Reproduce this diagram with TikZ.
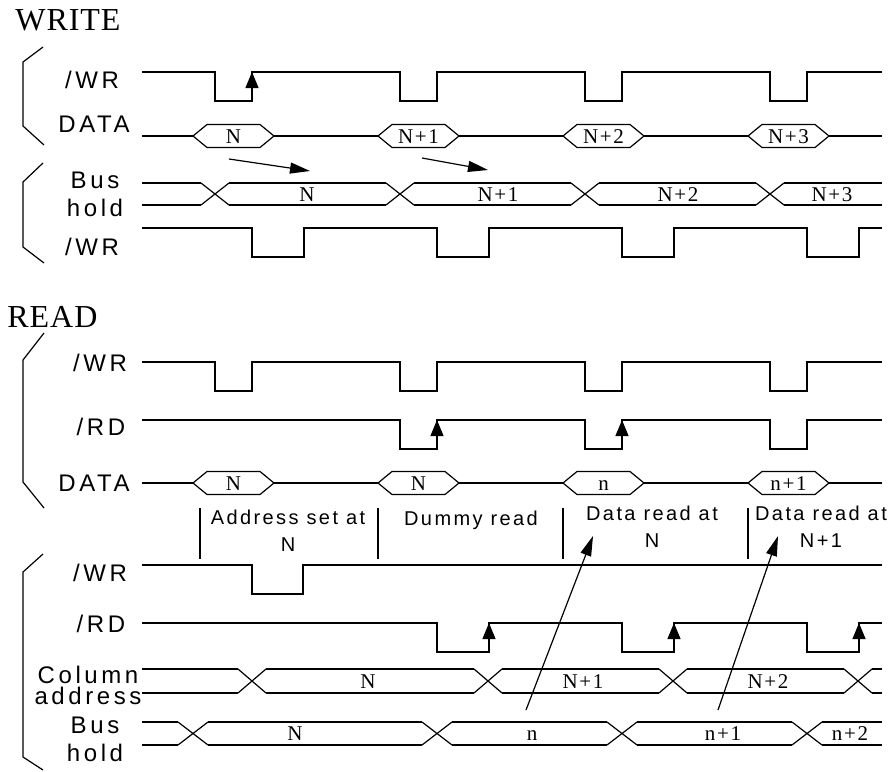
\documentclass[tikz,border=0pt]{standalone}
\usepackage{fontspec}
\setmainfont{Liberation Serif}
\newfontfamily\lblfont[LetterSpace=15]{Liberation Sans}
\newfontfamily\descfont[LetterSpace=12]{Liberation Sans}
\newfontfamily\titlefont[LetterSpace=3]{Liberation Serif}
\newfontfamily\valfont[LetterSpace=8]{Liberation Serif}
\usetikzlibrary{arrows.meta}
\tikzset{
    sig/.style={line width=0.6pt},
    edgetip/.style={sig, -{Triangle[length=8pt, width=6.5pt]}},
    longtip/.style={sig, -{Triangle[length=10pt, width=5.5pt]}},
    hexbox/.style={sig, fill=white},
    siglabel/.style={font=\lblfont\fontsize{12}{14}\selectfont, align=center, inner sep=0pt},
    vallabel/.style={font=\valfont\fontsize{10.5}{11}\selectfont, inner sep=0pt, text height=7pt, text depth=0pt},
    desclabel/.style={font=\descfont\fontsize{10}{13.5}\selectfont, align=center, inner sep=0pt},
    sectitle/.style={font=\titlefont\fontsize{16}{18}\selectfont, inner sep=0pt, anchor=base west}
}

\begin{document}
\begin{tikzpicture}[x=0.5pt, y=-0.5pt]
\useasboundingbox (0,0) rectangle (894,771);

% WRITE
\node[sectitle] (wtitle) at (15,31) {WRITE};
\draw[sig] (43,47) -- (23,62) -- (23,126) -- (44,145);
\draw[sig] (43,163) -- (23,182) -- (23,247) -- (44,263);

\node[siglabel] (wWR) at (92,80) {/WR};
\draw[sig] (142,72) foreach \x in {215,400,585,770} { -- (\x,72) -- (\x,101) -- (\x+37,101) -- (\x+37,72) } -- (882,72);
\draw[edgetip] (252,101) -- (252,72);

\node[siglabel] (wDATA) at (94,124) {DATA};
\draw[sig] (142,136) -- (882,136);
\foreach \x/\t [count=\i] in {193/N, 378/N+1, 563/N+2, 748/N+3} {
    \draw[hexbox] (\x,136) -- (\x+14,124.5) -- (\x+67,124.5) -- (\x+81,136) -- (\x+67,147.5) -- (\x+14,147.5) -- cycle;
    \node[vallabel] (wd\i) at (\x+40.5,136) {\t};
}

% latch arrows
\coordinate (la1) at (229,159); \coordinate (lb1) at (310,171);
\coordinate (la2) at (422,158); \coordinate (lb2) at (488,170);
\draw[longtip] (la1) -- (lb1);
\draw[longtip] (la2) -- (lb2);

\node[siglabel] (wBus) at (95,194) {Bus\\hold};
\foreach \c in {215,400,585,770}
    \draw[sig] (\c-14,183) -- (\c+14,205) (\c-14,205) -- (\c+14,183);
\foreach \a/\b in {142/201, 229/386, 414/571, 599/756, 784/882}
    \draw[sig] (\a,183) -- (\b,183) (\a,205) -- (\b,205);
\foreach \x/\t [count=\i] in {307/N, 498/N+1, 678/N+2, 832/N+3}
    \node[vallabel] (wb\i) at (\x,194) {\t};

\node[siglabel] (wWRb) at (92,247) {/WR};
\draw[sig] (142,228) foreach \x in {252,437,622,807} { -- (\x,228) -- (\x,257) -- (\x+52,257) -- (\x+52,228) } -- (882,228);

% READ
\node[sectitle] (rtitle) at (7,327) {READ};
\draw[sig] (44,333) -- (23,360) -- (23,482) -- (44,508);
\draw[sig] (43,554) -- (23,572) -- (23,757) -- (43,770);

\node[siglabel] (rWR) at (100,363) {/WR};
\draw[sig] (142,362) foreach \x in {215,400,585,770} { -- (\x,362) -- (\x,391) -- (\x+37,391) -- (\x+37,362) } -- (882,362);

\node[siglabel] (rRD) at (101,427) {/RD};
\draw[sig] (142,420) foreach \x in {400,585,770} { -- (\x,420) -- (\x,449) -- (\x+37,449) -- (\x+37,420) } -- (882,420);
\foreach \x in {437,622}
    \draw[edgetip] (\x,449) -- (\x,420);

\node[siglabel] (rDATA) at (94,483) {DATA};
\draw[sig] (142,483) -- (882,483);
\foreach \x/\t [count=\i] in {193/N, 378/N, 563/n, 748/n+1} {
    \draw[hexbox] (\x,483) -- (\x+14,471.5) -- (\x+67,471.5) -- (\x+81,483) -- (\x+67,494.5) -- (\x+14,494.5) -- cycle;
    \node[vallabel] (rd\i) at (\x+40.5,483) {\t};
}

% phases
\foreach \x in {200,378,563,748}
    \draw[sig] (\x,508) -- (\x,559);
\node[desclabel] (pAddr) at (288,531) {Address set at\\N};
\node[desclabel] (pDummy) at (471,520) {Dummy read};
\node[desclabel] (pRead1) at (652,527) {Data read at\\N};
\node[desclabel] (pRead2) at (821,527) {Data read at\\N+1};

\node[siglabel] (bWR) at (100,573) {/WR};
\draw[sig] (142,565) -- (252,565) -- (252,594) -- (303,594) -- (303,565) -- (882,565);

\node[siglabel] (bRD) at (101,624) {/RD};
\draw[sig] (142,623) foreach \x in {437,622,807} { -- (\x,623) -- (\x,652) -- (\x+52,652) -- (\x+52,623) } -- (882,623);
\foreach \x in {489,674,859}
    \draw[edgetip] (\x,652) -- (\x,623);

\node[siglabel, font=\lblfont\fontsize{12}{10.5}\selectfont] (bCol) at (88,685) {Column\\address};
\foreach \c in {252,488,673,858}
    \draw[sig] (\c-14,669) -- (\c+14,693) (\c-14,693) -- (\c+14,669);
\foreach \a/\b in {142/238, 266/474, 502/659, 687/844, 872/882}
    \draw[sig] (\a,669) -- (\b,669) (\a,693) -- (\b,693);
\foreach \x/\t [count=\i] in {368/N, 583/N+1, 768/N+2}
    \node[vallabel] (bc\i) at (\x,681) {\t};

\node[siglabel] (bBus) at (95,739) {Bus\\hold};
\foreach \c in {193,437,622,807}
    \draw[sig] (\c-15,722) -- (\c+15,745) (\c-15,745) -- (\c+15,722);
\foreach \a/\b in {142/178, 208/422, 452/607, 637/792, 822/882}
    \draw[sig] (\a,722) -- (\b,722) (\a,745) -- (\b,745);
\foreach \x/\t [count=\i] in {295/N, 532/n, 723/n+1, 850/n+2}
    \node[vallabel] (bb\i) at (\x,733.5) {\t};

% read arrows
\coordinate (ra1) at (526,710); \coordinate (rb1) at (593,536);
\coordinate (ra2) at (718,710); \coordinate (rb2) at (778,536);
\draw[longtip] (ra1) -- (rb1);
\draw[longtip] (ra2) -- (rb2);
\end{tikzpicture}
\end{document}
